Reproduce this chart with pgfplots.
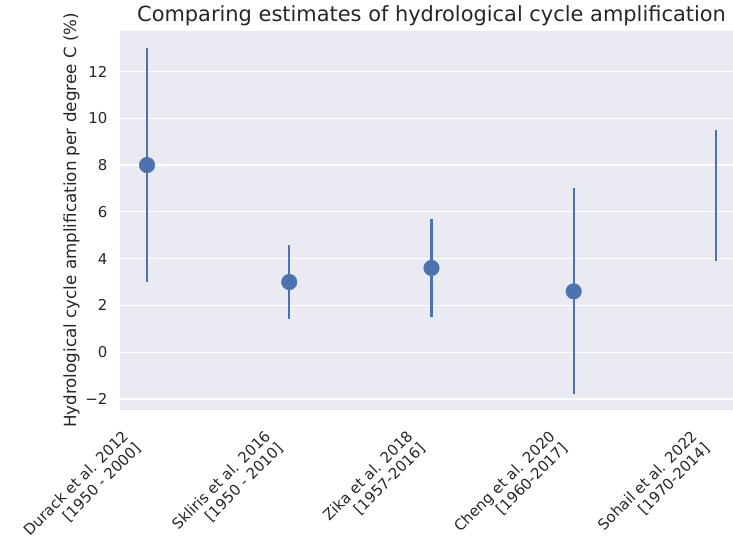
\documentclass[border=0pt]{standalone}
\usepackage{pgfplots}
\pgfplotsset{compat=1.18}
\usepackage{fontspec}
\setmainfont{DejaVu Sans}
\definecolor{sbblue}{HTML}{4C72B0}
\definecolor{sbbg}{HTML}{EAEAF2}
\definecolor{txt}{HTML}{262626}
\begin{document}
\begin{tikzpicture}
\begin{axis}[
  scale only axis, width=613bp, height=379bp,
  xmin=-0.19, xmax=4.12, ymin=-2.47, ymax=13.73,
  axis background/.style={fill=sbbg},
  axis line style={draw=none},
  major tick length=0pt,
  ytick={-2,0,2,4,6,8,10,12},
  yticklabels={−2,0,2,4,6,8,10,12},
  ymajorgrids, grid style={white, line width=1.3bp},
  xtick={0,1,2,3,4},
  xticklabels={{Durack et al. 2012\\{[}1950 - 2000{]}},
               {Skliris et al. 2016\\{[}1950 - 2010{]}},
               {Zika et al. 2018\\{[}1957-2016{]}},
               {Cheng et al. 2020\\{[}1960-2017{]}},
               {Sohail et al. 2022\\{[}1970-2014{]}}},
  xticklabel style={xshift=-26bp, yshift=-19bp,
     rotate=45, anchor=north east, align=right, inner sep=0pt,
     font=\fontsize{15}{17.5}\selectfont, text=txt},
  yticklabel style={font=\fontsize{15}{18}\selectfont, text=txt, xshift=-9bp},
  ylabel={Hydrological cycle amplification per degree C (\%)},
  ylabel style={font=\fontsize{16.8}{18}\selectfont, text=txt, yshift=-1bp},
  title={Comparing estimates of hydrological cycle amplification},
  title style={font=\fontsize{21}{24}\selectfont, text=txt, xshift=5bp, yshift=-4bp},
  clip=false,
]
\addplot[sbblue, only marks, mark=*, mark size=7.8bp,
  error bars/.cd, y dir=both, y explicit,
  error bar style={line width=2.2bp, sbblue}, error mark=none]
  coordinates {
  (0,8)   += (0,5)   -= (0,5)
  (1,3)   += (0,1.6) -= (0,1.6)
  (2,3.6) += (0,2.1) -= (0,2.1)
  (3,2.6) += (0,4.4) -= (0,4.4)
  };
\addplot[sbblue, line width=2.2bp] coordinates {(4,3.9) (4,9.5)};
\end{axis}
\pgfresetboundingbox
\path ([shift={(-120bp,-128bp)}]current axis.south west) rectangle ([shift={(0bp,31bp)}]current axis.north east);
\end{tikzpicture}
\end{document}
